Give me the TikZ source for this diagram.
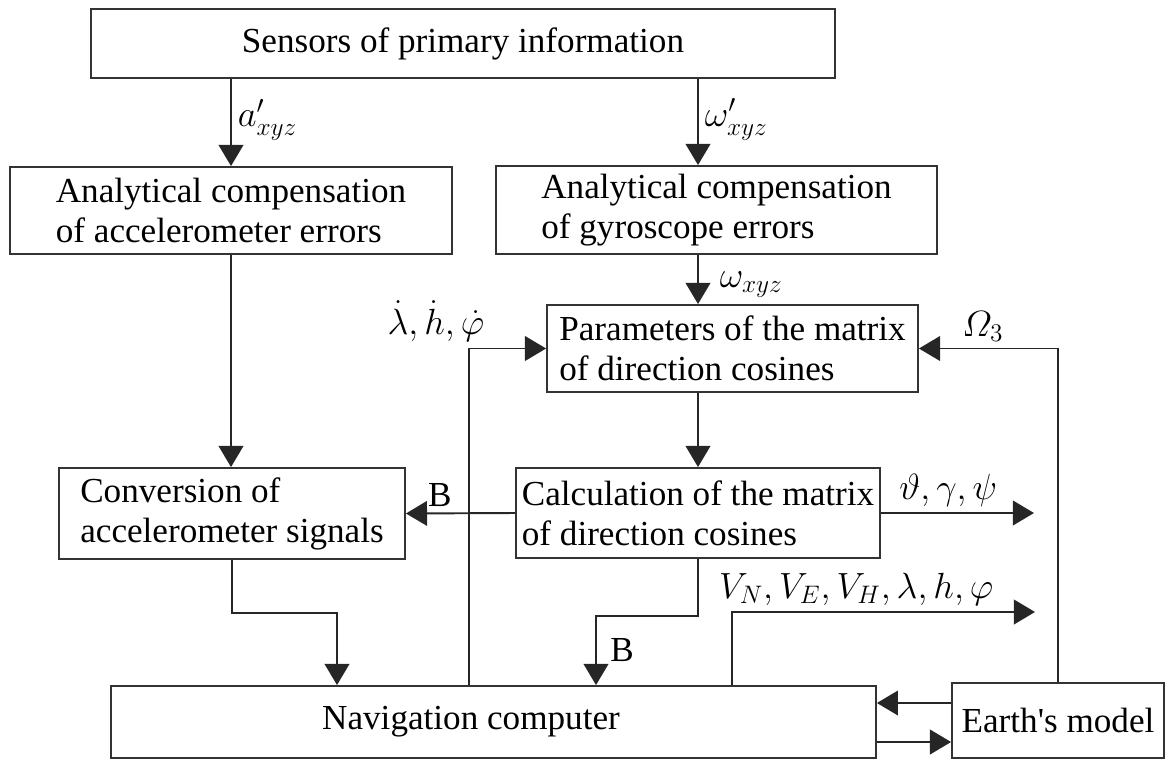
\documentclass[tikz,border=0pt]{standalone}
\usepackage{amsmath}
\usepackage{fontspec}
\setmainfont{Liberation Serif}
\usetikzlibrary{arrows.meta}

\begin{document}
\begin{tikzpicture}[x=0.02cm,y=-0.02cm,
    every node/.style={font=\fontsize{20}{22.8}\selectfont},
    sig/.style={font=\fontsize{21}{24}\selectfont},
    block/.style={draw=black!80,line width=1.1pt,align=left,inner sep=0pt},
    flow/.style={draw=black!85,line width=1.1pt,-{Triangle[length=12pt,width=14pt]}}]
  \useasboundingbox (0,0) rectangle (1165,760);
  % blocks
  \node[block,minimum width=14.88cm,minimum height=1.38cm] (sensors) at (463,43.5) {Sensors of primary information};
  \node[block,minimum width=8.84cm,minimum height=1.74cm] (acccomp) at (231,210.5) {Analytical compensation\\of accelerometer errors};
  \node[block,minimum width=8.82cm,minimum height=1.76cm] (gyrocomp) at (716.5,210) {Analytical compensation\\of gyroscope errors};
  \node[block,minimum width=7.42cm,minimum height=1.74cm] (params) at (732.5,348.5) {Parameters of the matrix\\of direction cosines};
  \node[block,minimum width=6.92cm,minimum height=1.82cm] (conv) at (232,513.5) {Conversion of\\accelerometer signals};
  \node[block,minimum width=7.28cm,minimum height=1.80cm] (calc) at (698,513) {Calculation of the matrix\\of direction cosines};
  \node[block,minimum width=15.3cm,minimum height=1.44cm] (nav) at (493.5,722) {Navigation computer\hspace*{0.9cm}};
  \node[block,minimum width=4.24cm,minimum height=1.5cm] (earth) at (1058,720.5) {Earth\textquotesingle s model};
  % bends and free ends
  \coordinate (lhp) at (469,350);
  \coordinate (cv) at (337,613);
  \coordinate (cb) at (596,616);
  \coordinate (vn) at (732,612);
  \coordinate (vout) at (1035,612);
  \coordinate (aout) at (1034,513);
  \coordinate (etop) at (0,703);
  \coordinate (ebot) at (0,742);
  % signals
  \draw[flow] (acccomp.north |- sensors.south) -- node[sig,anchor=west,pos=0.47] {$a'_{xyz}$} (acccomp.north);
  \draw[flow] (calc.north |- sensors.south) -- node[sig,anchor=west,pos=0.47] {$\omega'_{xyz}$} (calc.north |- gyrocomp.north);
  \draw[flow] (calc.north |- gyrocomp.south) -- node[sig,anchor=west,pos=0.6,xshift=0.3cm] {$\omega_{xyz}$} (calc.north |- params.north);
  \draw[flow] (calc.north |- params.south) -- (calc.north);
  \draw[flow] (acccomp.south) -- (acccomp.south |- conv.north);
  \draw[flow] (calc.west) -- node[anchor=south,pos=0.69] {B} (conv.east);
  \draw[flow] (nav.north -| lhp) |- node[sig,anchor=south,pos=0.5,xshift=-0.66cm] {$\dot\lambda,\dot h,\dot\varphi$} (params.west);
  \draw[flow] (conv.south) |- (cv) -- (cv |- nav.north);
  \draw[flow] (calc.south) |- (cb) -- node[anchor=west,pos=0.49,xshift=0.15cm] {B} (cb |- nav.north);
  \draw[flow] (nav.north -| vn) -- (vn) -- node[sig,anchor=south,pos=0.41] {$V_N,V_E,V_H,\lambda,h,\varphi$} (vout);
  \draw[flow] (calc.east) -- node[sig,anchor=south,pos=0.44] {$\vartheta,\gamma,\psi$} (calc.east -| aout);
  \draw[flow] (earth.north) |- node[sig,anchor=south,pos=0.77] {$\varOmega_3$} (params.east);
  \draw[flow] (earth.west |- etop) -- (nav.east |- etop);
  \draw[flow] (nav.east |- ebot) -- (earth.west |- ebot);
\end{tikzpicture}
\end{document}
